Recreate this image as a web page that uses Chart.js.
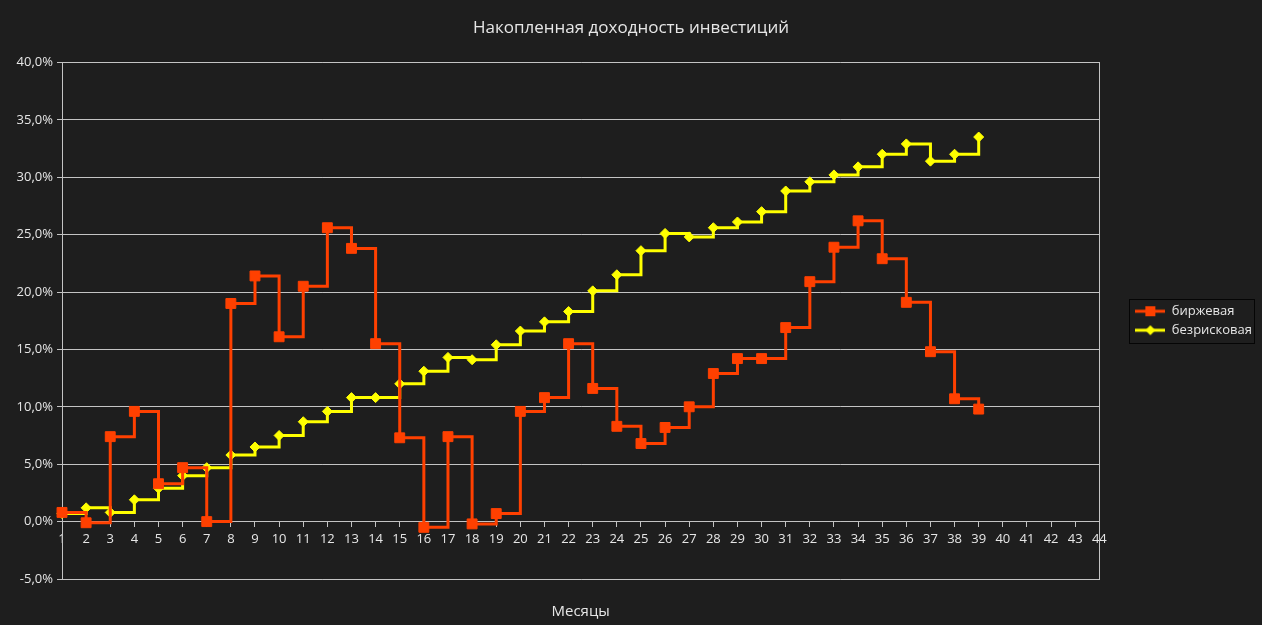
<!DOCTYPE html>
<html>
<head>
<meta charset="utf-8">
<script src="https://cdn.jsdelivr.net/npm/chart.js@4/dist/chart.umd.min.js"></script>
<style>
  body { margin: 0; background: #1e1e1e; }
  canvas { display: block; }
</style>
</head>
<body>
<canvas id="returns-chart" width="1262" height="625"></canvas>
<script>
// months 1..39
const months = [1, 2, 3, 4, 5, 6, 7, 8, 9, 10, 11, 12, 13, 14, 15, 16, 17, 18, 19, 20,
  21, 22, 23, 24, 25, 26, 27, 28, 29, 30, 31, 32, 33, 34, 35, 36, 37, 38, 39];

// cumulative return, %
const exchangeReturns = [0.8, -0.1, 7.4, 9.6, 3.3, 4.7, 0.0, 19.0, 21.4, 16.1,
  20.5, 25.6, 23.8, 15.5, 7.3, -0.5, 7.4, -0.2, 0.7, 9.6,
  10.8, 15.5, 11.6, 8.3, 6.8, 8.2, 10.0, 12.9, 14.2, 14.2,
  16.9, 20.9, 23.9, 26.2, 22.9, 19.1, 14.8, 10.7, 9.8];

const riskFreeReturns = [0.7, 1.2, 0.8, 1.9, 2.9, 4.0, 4.7, 5.8, 6.5, 7.5,
  8.7, 9.6, 10.8, 10.8, 12.0, 13.1, 14.3, 14.1, 15.4, 16.6,
  17.4, 18.3, 20.1, 21.5, 23.6, 25.1, 24.8, 25.6, 26.1, 27.0,
  28.8, 29.6, 30.2, 30.9, 32.0, 32.9, 31.4, 32.0, 33.5];

const seriesNames = ['биржевая', 'безрисковая'];

const RED = '#ff4000';
const YELLOW = '#ffff00';
const GRID = '#c4c4c4';
const TEXT = '#e6e6e6';

Chart.defaults.font.family = '"Open Sans", sans-serif';
Chart.defaults.color = TEXT;

// little line+marker pictures for the legend
function legendSample(color, style) {
  const c = document.createElement('canvas');
  c.width = 30; c.height = 12;
  const g = c.getContext('2d');
  g.strokeStyle = color;
  g.lineWidth = 3;
  g.beginPath(); g.moveTo(0, 6); g.lineTo(30, 6); g.stroke();
  g.fillStyle = color;
  if (style === 'rect') {
    g.fillRect(10, 1, 10, 10);
  } else {
    g.beginPath(); g.moveTo(15, 1); g.lineTo(20, 6); g.lineTo(15, 11); g.lineTo(10, 6); g.closePath(); g.fill();
  }
  return c;
}
const legendImages = [legendSample(RED, 'rect'), legendSample(YELLOW, 'diamond')];

const legendBorder = {
  id: 'legendBorder',
  afterDraw(chart) {
    const lg = chart.legend;
    if (!lg || !lg.legendHitBoxes.length) return;
    const boxes = lg.legendHitBoxes;
    const top = boxes[0].top - 6;
    const last = boxes[boxes.length - 1];
    const bottom = last.top + last.height + 6;
    const ctx = chart.ctx;
    ctx.save();
    ctx.strokeStyle = '#050505';
    ctx.lineWidth = 1;
    ctx.strokeRect(Math.round(lg.left) + 0.5, Math.round(top) + 0.5,
      Math.round(lg.right - lg.left - 8), Math.round(bottom - top));
    ctx.restore();
  }
};

const ctx = document.getElementById('returns-chart').getContext('2d');

new Chart(ctx, {
  type: 'line',
  data: {
    datasets: [{
      label: seriesNames[0],
      data: months.map((m, i) => ({ x: m, y: exchangeReturns[i] })),
      borderColor: RED,
      backgroundColor: RED,
      borderWidth: 3,
      stepped: true,
      pointStyle: 'rect',
      pointRadius: 7,
      pointBorderWidth: 1,
      clip: false
    }, {
      label: seriesNames[1],
      data: months.map((m, i) => ({ x: m, y: riskFreeReturns[i] })),
      borderColor: YELLOW,
      backgroundColor: YELLOW,
      borderWidth: 3,
      stepped: true,
      pointStyle: 'rectRot',
      pointRadius: 5,
      pointBorderWidth: 1,
      clip: false
    }]
  },
  options: {
    responsive: false,
    animation: false,
    layout: { padding: { top: 0, right: 0, bottom: 0, left: 0 } },
    scales: {
      x: {
        type: 'linear',
        position: 'bottom',
        min: 1,
        max: 44,
        ticks: { display: false },
        grid: { display: false },
        border: { display: false },
        title: {
          display: true,
          text: 'Месяцы',
          color: TEXT,
          font: { size: 15 },
          padding: { top: 16, bottom: 4 }
        }
      },
      xZero: {
        type: 'linear',
        axis: 'x',
        position: { y: 0 },
        min: 1,
        max: 44,
        ticks: { stepSize: 1, autoSkip: false, maxRotation: 0, color: TEXT, font: { size: 13 }, padding: 5 },
        grid: { drawOnChartArea: false, color: GRID, tickLength: 5 },
        border: { display: true, color: GRID, width: 1 }
      },
      y: {
        min: -5,
        max: 40,
        ticks: {
          stepSize: 5,
          color: TEXT,
          font: { size: 13 },
          padding: 4,
          callback: v => v.toFixed(1).replace('.', ',') + '%'
        },
        grid: { color: GRID, lineWidth: 1, tickLength: 5 },
        border: { display: true, color: GRID },
        afterFit: s => { s.width = 62; }
      },
      yRight: {
        type: 'linear',
        position: 'right',
        min: -5,
        max: 40,
        ticks: { display: false },
        grid: { display: false },
        border: { display: true, color: GRID },
        afterFit: s => { s.width = 30; }
      }
    },
    plugins: {
      title: {
        display: true,
        text: 'Накопленная доходность инвестиций',
        color: TEXT,
        font: { size: 17, weight: 'normal' },
        padding: { top: 18, bottom: 24 }
      },
      legend: {
        position: 'right',
        fullSize: false,
        labels: {
          color: TEXT,
          font: { size: 13 },
          padding: 6,
          usePointStyle: true,
          pointStyleWidth: 30,
          generateLabels: chart => {
            const items = Chart.defaults.plugins.legend.labels.generateLabels(chart);
            items.forEach((it, i) => { it.pointStyle = legendImages[i]; });
            return items;
          }
        }
      },
      tooltip: { enabled: false }
    }
  },
  plugins: [legendBorder]
});
</script>
</body>
</html>
